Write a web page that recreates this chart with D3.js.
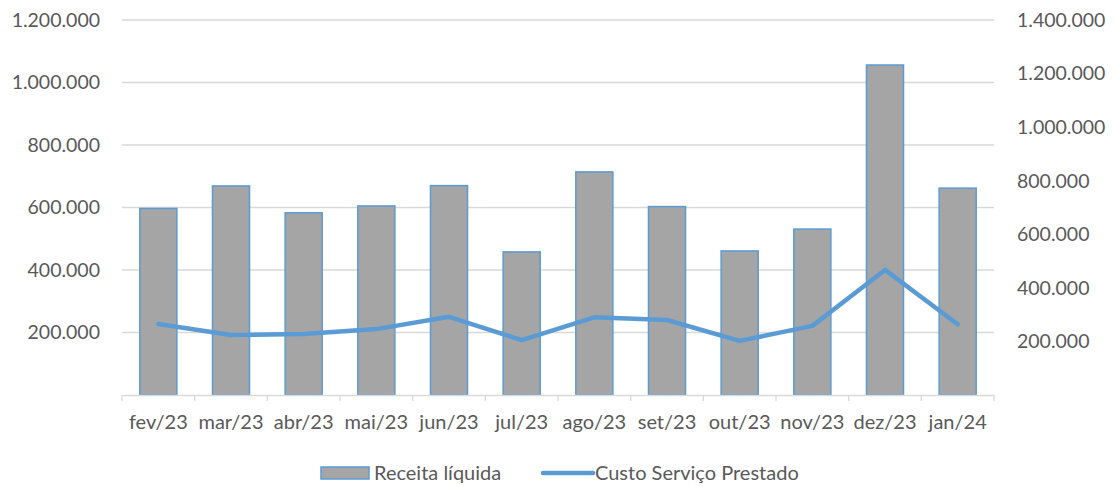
<!DOCTYPE html>
<meta charset="utf-8">
<style>
  body { margin: 0; background: #fff; }
  text { font-family: Lato, "Open Sans", sans-serif; fill: #595959; }
</style>
<script src="https://d3js.org/d3.v7.min.js"></script>
<div id="chart"></div>
<script>
// data
var months = ["fev/23", "mar/23", "abr/23", "mai/23", "jun/23", "jul/23", "ago/23", "set/23", "out/23", "nov/23", "dez/23", "jan/24"];
var receita = [597000, 669000, 583000, 605000, 670000, 458000, 714000, 603000, 461000, 531000, 1056000, 662000];
var custo = [265000, 224000, 228000, 246000, 292000, 205000, 290000, 280000, 202000, 258000, 467000, 264000];
var leftTicks = [200000, 400000, 600000, 800000, 1000000, 1200000];
var rightTicks = [200000, 400000, 600000, 800000, 1000000, 1200000, 1400000];

var W = 1115, H = 487;
var plot = {left: 122, right: 994, top: 20, bottom: 395};
var fs = "19.5px";

var svg = d3.select("#chart").append("svg")
  .attr("width", W).attr("height", H);

var fmt = function(v) { return d3.format(",")(v).replace(/,/g, "."); };

var x = d3.scaleBand().domain(months).range([plot.left, plot.right]).paddingInner(0.49).paddingOuter(0.245);
var xBand = d3.scaleBand().domain(months).range([plot.left, plot.right]);
var yL = d3.scaleLinear().domain([0, 1200000]).range([plot.bottom, plot.top]);
var yR = d3.scaleLinear().domain([0, 1400000]).range([plot.bottom, plot.top]);

// gridlines
svg.append("g").selectAll("line")
  .data(leftTicks).enter().append("line")
  .attr("x1", plot.left).attr("x2", plot.right)
  .attr("y1", function(d) { return yL(d); }).attr("y2", function(d) { return yL(d); })
  .attr("stroke", "#d9d9d9").attr("stroke-width", 1.3);

// left axis labels
svg.append("g").selectAll("text")
  .data(leftTicks).enter().append("text")
  .attr("x", 100).attr("y", function(d) { return yL(d); })
  .attr("dy", "0.35em").attr("text-anchor", "end")
  .style("font-size", fs)
  .text(fmt);

// right axis labels
svg.append("g").selectAll("text")
  .data(rightTicks).enter().append("text")
  .attr("x", 1017).attr("y", function(d) { return yR(d); })
  .attr("dy", "0.35em").attr("text-anchor", "start")
  .style("font-size", fs)
  .text(fmt);

// bars
svg.append("g").selectAll("rect")
  .data(receita).enter().append("rect")
  .attr("x", function(d, i) { return x(months[i]); })
  .attr("y", function(d) { return yL(d); })
  .attr("width", x.bandwidth())
  .attr("height", function(d) { return plot.bottom - yL(d); })
  .attr("fill", "#a5a5a5")
  .attr("stroke", "#5b9bd5").attr("stroke-width", 1.5);

// x axis
var xAxis = svg.append("g").attr("transform", "translate(0," + plot.bottom + ")")
  .call(d3.axisBottom(xBand).tickSize(0).tickPadding(20).tickSizeOuter(0));
xAxis.select(".domain").attr("stroke", "#d9d9d9").attr("stroke-width", 1.3);
xAxis.selectAll("text").style("font-size", "20px").attr("fill", "#595959")
  .style("font-family", "Lato, 'Open Sans', sans-serif");
svg.append("g").selectAll("line")
  .data(months.concat(["end"])).enter().append("line")
  .attr("x1", function(d, i) { return plot.left + i * xBand.step(); })
  .attr("x2", function(d, i) { return plot.left + i * xBand.step(); })
  .attr("y1", plot.bottom).attr("y2", plot.bottom + 6)
  .attr("stroke", "#d9d9d9").attr("stroke-width", 1.3);

// line
var line = d3.line()
  .x(function(d, i) { return xBand(months[i]) + xBand.bandwidth() / 2; })
  .y(function(d) { return yR(d); });
svg.append("path").datum(custo)
  .attr("d", line)
  .attr("fill", "none").attr("stroke", "#5b9bd5")
  .attr("stroke-width", 4.5).attr("stroke-linejoin", "round").attr("stroke-linecap", "round");

// legend
var lg = svg.append("g");
lg.append("rect").attr("x", 321).attr("y", 467).attr("width", 48).attr("height", 12)
  .attr("fill", "#a5a5a5").attr("stroke", "#5b9bd5").attr("stroke-width", 1.5);
lg.append("text").attr("x", 374).attr("y", 473).attr("dy", "0.35em")
  .style("font-size", "20px").text("Receita líquida");
lg.append("line").attr("x1", 543).attr("x2", 593).attr("y1", 473).attr("y2", 473)
  .attr("stroke", "#5b9bd5").attr("stroke-width", 4.5).attr("stroke-linecap", "round");
lg.append("text").attr("x", 595).attr("y", 473).attr("dy", "0.35em")
  .style("font-size", "20px").text("Custo Serviço Prestado");
</script>
